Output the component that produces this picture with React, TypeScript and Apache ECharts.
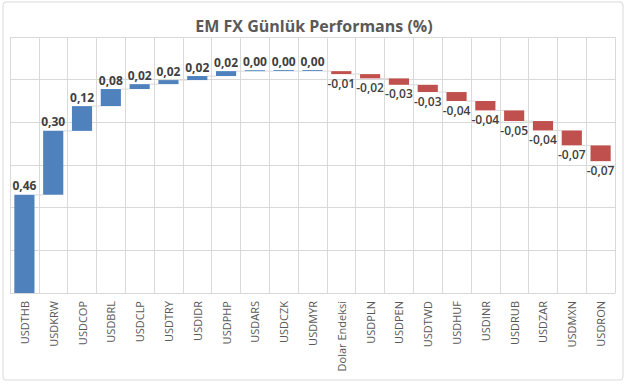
import React, { useEffect, useRef } from "react";
import * as echarts from "echarts";

const categories = [
  "USDTHB", "USDKRW", "USDCOP", "USDBRL", "USDCLP", "USDTRY", "USDIDR", "USDPHP",
  "USDARS", "USDCZK", "USDMYR", "Dolar Endeksi", "USDPLN", "USDPEN", "USDTWD",
  "USDHUF", "USDINR", "USDRUB", "USDZAR", "USDMXN", "USDRON",
];
const changes = [
  0.46, 0.30, 0.116, 0.08, 0.023, 0.019, 0.019, 0.023,
  0.0, 0.0, 0.0, -0.014, -0.02, -0.03, -0.034,
  -0.042, -0.044, -0.05, -0.044, -0.07, -0.074,
];
const yTicks = { min: 0, max: 1.2, interval: 0.2 };

const fmt = (v: number) => v.toFixed(2).replace(".", ",");

export default function App() {
  const ref = useRef<HTMLDivElement>(null);
  useEffect(() => {
    document.body.style.margin = "0";
    const chart = echarts.init(ref.current!, null, { renderer: "svg" });

    const starts: number[] = [];
    const ends: number[] = [];
    let cum = 0;
    changes.forEach((c) => {
      starts.push(cum);
      cum += c;
      ends.push(cum);
    });
    const base = changes.map((c, i) => Math.min(starts[i], ends[i]));
    const visible = changes.map((c) => ({
      value: Math.abs(c),
      raw: c,
      itemStyle: { color: c < 0 ? "#C0504D" : "#4F81BD" },
      label: {
        position: c < 0 ? "bottom" : "top",
        fontWeight: c < 0 ? 600 : "bold",
      },
    }));
    const connectors = ends.slice(0, -1).map((v, i) => [i, v]);

    const font = "'Open Sans', sans-serif";
    chart.setOption({
      animation: false,
      title: {
        text: "EM FX Günlük Performans (%)",
        left: "center",
        top: 13,
        textStyle: { fontSize: 16, fontWeight: "bold", color: "#595959", fontFamily: font },
      },
      grid: { left: 10, right: 13, top: 37, bottom: 92, containLabel: false },
      xAxis: {
        type: "category",
        data: categories,
        axisLine: { lineStyle: { color: "#d9d9d9" } },
        axisTick: { show: false },
        splitLine: { show: true, lineStyle: { color: "#d9d9d9" } },
        axisLabel: {
          rotate: 90,
          interval: 0,
          margin: 8,
          fontSize: 11,
          color: "#595959",
          fontFamily: font,
        },
      },
      yAxis: {
        type: "value",
        min: yTicks.min,
        max: yTicks.max,
        interval: yTicks.interval,
        axisLabel: { show: false },
        axisLine: { show: false },
        axisTick: { show: false },
        splitLine: { lineStyle: { color: "#d9d9d9" } },
      },
      series: [
        {
          type: "bar",
          stack: "wf",
          data: base,
          itemStyle: { color: "transparent" },
          barCategoryGap: "30%",
          silent: true,
        },
        {
          type: "bar",
          stack: "wf",
          data: visible,
          barCategoryGap: "30%",
          barMinHeight: 1,
          label: {
            show: true,
            fontSize: 12,
            color: "#404040",
            fontFamily: font,
            distance: 3,
            formatter: (p: any) => fmt(p.data.raw),
          },
        },
        {
          type: "custom",
          data: connectors,
          z: 1,
          renderItem: (params: any, api: any) => {
            const i = api.value(0);
            const v = api.value(1);
            const bw = (api.size([1, 0])[0] as number) * 0.7;
            const p1 = api.coord([i, v]);
            const p2 = api.coord([i + 1, v]);
            return {
              type: "line",
              shape: { x1: p1[0] + bw / 2, y1: p1[1], x2: p2[0] - bw / 2, y2: p2[1] },
              style: { stroke: "#d9d9d9", lineWidth: 1 },
            };
          },
        },
      ],
      graphic: [
        {
          type: "rect",
          shape: { x: 3, y: 2, width: 620, height: 378, r: 3 },
          style: { fill: "none", stroke: "#d9d9d9", lineWidth: 1 },
          silent: true,
          z: -1,
        },
      ],
    });
    return () => chart.dispose();
  }, []);
  return <div ref={ref} style={{ width: 628, height: 385 }} />;
}
